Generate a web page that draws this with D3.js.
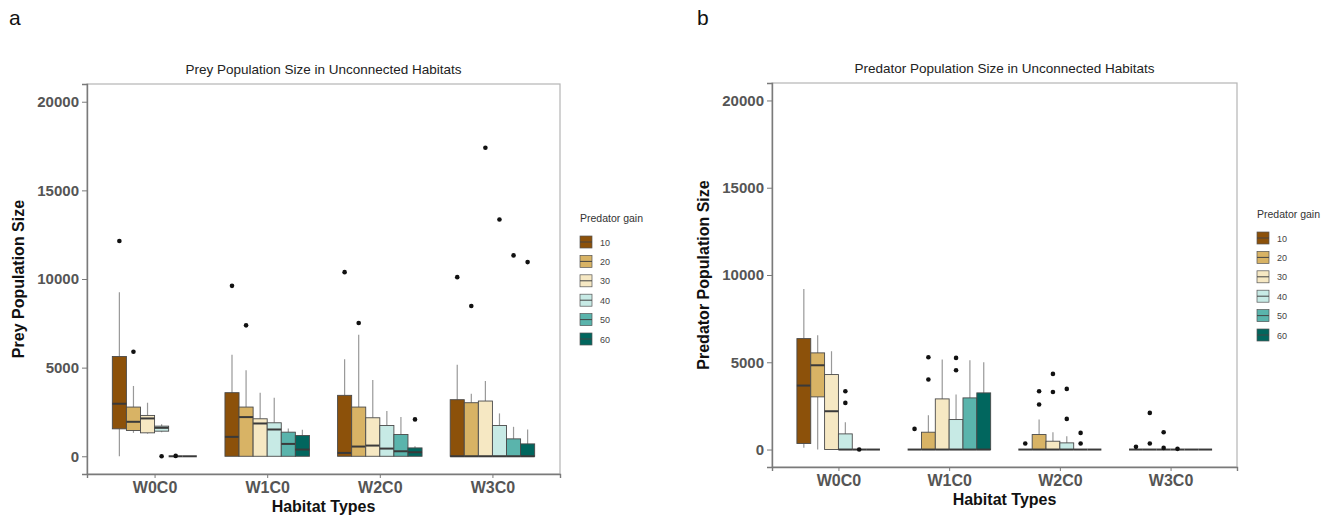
<!DOCTYPE html>
<html>
<head>
<meta charset="utf-8">
<script src="https://cdn.jsdelivr.net/npm/d3@7/dist/d3.min.js"></script>
<style>
  body { margin: 0; background: #fff; }
  svg { font-family: "Liberation Sans", Arial, sans-serif; }
</style>
</head>
<body>
<div id="chart"></div>
<script>
// Categories
const habitats = ["W0C0", "W1C0", "W2C0", "W3C0"];
const gains = ["10", "20", "30", "40", "50", "60"];
const yTicks = [0, 5000, 10000, 15000, 20000];
const gainColors = ["#8c510a", "#d8b365", "#f6e8c3", "#c7eae5", "#5ab4ac", "#01665e"];

// Box stats per habitat, one row per gain: [lower whisker, q1, median, q3, upper whisker]
const preyW0C0 = [[0,1547,2963,5626,9252],[1322,1455,1945,2776,3966],[1275,1322,2134,2304,3020],[1360,1416,1604,1700,1813],[0,0,0,0,0],[0,0,0,0,0]];
const preyW1C0 = [[0,0,1095,3588,5722],[0,0,2210,2776,4853],[0,0,1850,2115,3588],[0,0,1511,1889,3305],[0,0,697,1360,1567],[0,0,378,1171,1492]];
const preyW2C0 = [[0,0,189,3437,5477],[0,0,548,2776,6856],[0,0,604,2172,4306],[0,0,434,1737,2550],[0,0,283,1228,2210],[0,0,227,472,560]];
const preyW3C0 = [[0,0,0,3192,5156],[0,0,0,3021,3531],[0,0,0,3116,4249],[0,0,0,1737,2418],[0,0,0,982,1662],[0,0,0,698,1511]];
// Outliers: [habitat, gain, value]
const preyOutliers = [
  ["W0C0","10",12142],["W0C0","20",5892],["W0C0","40",0],["W0C0","50",20],
  ["W1C0","10",9614],["W1C0","20",7384],
  ["W2C0","10",10387],["W2C0","20",7518],["W2C0","60",2079],
  ["W3C0","10",10104],["W3C0","20",8480],["W3C0","30",17400],["W3C0","40",13354],["W3C0","50",11331],["W3C0","60",10953]
];

const predW0C0 = [[100,344,3665,6357,9203],[0,3018,4829,5538,6548],[0,0,2195,4296,5632],[0,0,0,897,1565],[0,0,0,0,0],[0,0,0,0,0]];
const predW1C0 = [[0,0,0,0,0],[0,0,0,993,1966],[0,0,0,2902,5155],[0,0,0,1718,3150],[0,0,0,2959,5117],[0,0,0,3246,5002]];
const predW2C0 = [[0,0,0,0,0],[0,0,0,859,1718],[0,0,0,477,993],[0,0,0,382,764],[0,0,0,0,0],[0,0,0,0,0]];
const predW3C0 = [[0,0,0,0,0],[0,0,0,0,0],[0,0,0,0,0],[0,0,0,0,0],[0,0,0,0,0],[0,0,0,0,0]];
const predOutliers = [
  ["W0C0","40",3340],["W0C0","40",2673],["W0C0","50",0],
  ["W1C0","10",1184],["W1C0","20",5288],["W1C0","20",4009],["W1C0","40",5250],["W1C0","40",4545],
  ["W2C0","10",344],["W2C0","20",2577],["W2C0","20",3340],["W2C0","30",4334],["W2C0","30",3300],
  ["W2C0","40",3475],["W2C0","40",1756],["W2C0","50",954],["W2C0","50",344],
  ["W3C0","10",153],["W3C0","20",2100],["W3C0","20",344],["W3C0","30",993],["W3C0","30",95],["W3C0","40",40]
];

const W = 1337, H = 516;
const svg = d3.select("#chart").append("svg")
  .attr("width", W).attr("height", H);

const color = d3.scaleOrdinal().domain(gains).range(gainColors);

function toRows(stats) {
  const rows = [];
  habitats.forEach((h, i) => {
    stats[i].forEach((s, j) => {
      rows.push({ habitat: h, gain: gains[j], lo: s[0], q1: s[1], med: s[2], q3: s[3], hi: s[4] });
    });
  });
  return rows;
}

function drawPanel(p) {
  const g = svg.append("g");

  const x = d3.scalePoint().domain(habitats).range([p.left, p.right]).padding(0.6);
  const groupW = x.step() * 0.75;
  const xi = d3.scaleBand().domain(gains).range([-groupW / 2, groupW / 2]);
  const y = d3.scaleLinear().domain([-1000, 21000]).range([p.bottom, p.top]);

  // title
  g.append("text")
    .attr("x", (p.left + p.right) / 2).attr("y", p.top - 10)
    .attr("text-anchor", "middle").attr("font-size", "13.5px").attr("fill", "#222")
    .text(p.title);

  // panel border
  g.append("rect")
    .attr("x", p.left).attr("y", p.top)
    .attr("width", p.right - p.left).attr("height", p.bottom - p.top)
    .attr("fill", "none").attr("stroke", "#b5b5b5").attr("stroke-width", 1.2);

  // axes
  const yAxis = g.append("g")
    .attr("transform", `translate(${p.left},0)`)
    .call(d3.axisLeft(y).tickValues(yTicks).tickSize(5).tickPadding(3).tickFormat(d3.format("d")));
  yAxis.select(".domain").attr("stroke", "#7a7a7a").attr("stroke-width", 1.4);
  yAxis.selectAll(".tick line").attr("stroke", "#7a7a7a");
  yAxis.selectAll("text")
    .attr("font-size", "15px").attr("font-weight", "bold").attr("fill", "#555")
    .attr("font-family", "Liberation Sans, Arial, sans-serif");

  const xAxis = g.append("g")
    .attr("transform", `translate(0,${p.bottom})`)
    .call(d3.axisBottom(x).tickSize(4).tickPadding(4));
  xAxis.select(".domain").attr("stroke", "#7a7a7a").attr("stroke-width", 1.4);
  xAxis.selectAll(".tick line").attr("stroke", "#7a7a7a");
  xAxis.selectAll("text")
    .attr("font-size", "16px").attr("font-weight", "bold").attr("fill", "#555")
    .attr("font-family", "Liberation Sans, Arial, sans-serif");

  // axis titles
  g.append("text")
    .attr("x", (p.left + p.right) / 2).attr("y", p.bottom + 38)
    .attr("text-anchor", "middle").attr("font-size", "16px").attr("font-weight", "bold")
    .attr("fill", "#111").text("Habitat Types");
  g.append("text")
    .attr("transform", `translate(${p.left - 63},${(p.top + p.bottom) / 2}) rotate(-90)`)
    .attr("text-anchor", "middle").attr("font-size", "16px").attr("font-weight", "bold")
    .attr("fill", "#111").text(p.yTitle);

  const rows = toRows(p.stats);
  const boxes = g.selectAll(".box").data(rows).enter().append("g")
    .attr("transform", d => `translate(${x(d.habitat) + xi(d.gain)},0)`);
  const bw = xi.bandwidth();

  // whiskers
  boxes.append("line")
    .attr("x1", bw / 2).attr("x2", bw / 2)
    .attr("y1", d => y(d.hi)).attr("y2", d => y(d.q3))
    .attr("stroke", "#999").attr("stroke-width", 1.2);
  boxes.append("line")
    .attr("x1", bw / 2).attr("x2", bw / 2)
    .attr("y1", d => y(d.q1)).attr("y2", d => y(d.lo))
    .attr("stroke", "#999").attr("stroke-width", 1.2);

  boxes.filter(d => d.q3 > d.q1).append("rect")
    .attr("x", 0).attr("width", bw)
    .attr("y", d => y(d.q3)).attr("height", d => y(d.q1) - y(d.q3))
    .attr("fill", d => color(d.gain)).attr("stroke", "#4a4a4a").attr("stroke-width", 0.9);

  boxes.append("line")
    .attr("x1", 0).attr("x2", bw)
    .attr("y1", d => y(d.med)).attr("y2", d => y(d.med))
    .attr("stroke", "#3a3a3a").attr("stroke-width", 2);

  // outliers
  g.selectAll(".out").data(p.outliers).enter().append("circle")
    .attr("cx", d => x(d[0]) + xi(d[1]) + bw / 2)
    .attr("cy", d => y(d[2]))
    .attr("r", 2.3).attr("fill", "#111");

  // legend
  const lg = g.append("g").attr("transform", `translate(${p.legendX},${p.legendY})`);
  lg.append("text").attr("x", 0).attr("y", 0)
    .attr("font-size", "10.5px").attr("fill", "#333").text("Predator gain");
  const items = lg.selectAll(".li").data(gains).enter().append("g")
    .attr("transform", (d, i) => `translate(0,${14 + i * 19.4})`);
  items.append("rect").attr("x", 0).attr("y", 0).attr("width", 12).attr("height", 12)
    .attr("fill", d => color(d)).attr("stroke", "#555").attr("stroke-width", 0.7);
  items.append("line").attr("x1", 0).attr("x2", 12).attr("y1", 6).attr("y2", 6)
    .attr("stroke", "#444").attr("stroke-width", 1);
  items.append("text").attr("x", 20).attr("y", 9.5)
    .attr("font-size", "9px").attr("fill", "#444").text(d => d);
}

drawPanel({
  left: 87, right: 560, top: 84, bottom: 474,
  title: "Prey Population Size in Unconnected Habitats",
  yTitle: "Prey Population Size",
  stats: [preyW0C0, preyW1C0, preyW2C0, preyW3C0],
  outliers: preyOutliers,
  legendX: 580, legendY: 222
});

drawPanel({
  left: 772, right: 1237, top: 83, bottom: 467,
  title: "Predator Population Size in Unconnected Habitats",
  yTitle: "Predator Population Size",
  stats: [predW0C0, predW1C0, predW2C0, predW3C0],
  outliers: predOutliers,
  legendX: 1257, legendY: 218
});

// panel letters
svg.append("text").attr("x", 9).attr("y", 25).attr("font-size", "21px").attr("fill", "#111").text("a");
svg.append("text").attr("x", 697).attr("y", 25).attr("font-size", "21px").attr("fill", "#111").text("b");
</script>
</body>
</html>
